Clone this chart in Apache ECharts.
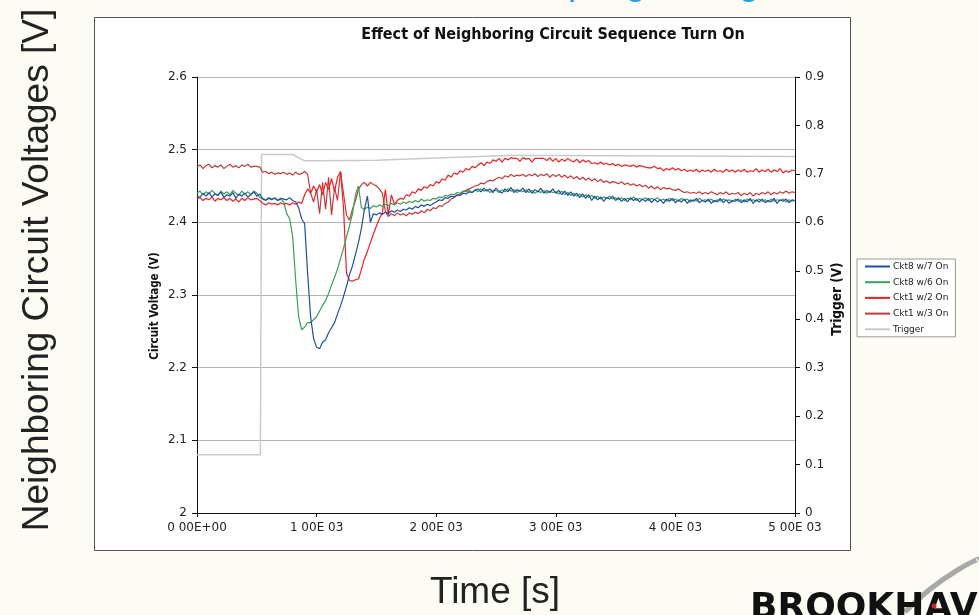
<!DOCTYPE html>
<html><head><meta charset="utf-8">
<script src="https://cdn.jsdelivr.net/npm/echarts@6/dist/echarts.min.js"></script>
<style>html,body{margin:0;padding:0;background:#fcfcf4;}#main{width:979px;height:615px;}</style>
</head><body><div id="main"></div>
<script>
// sample spacing of the voltage records (seconds)
const sampleStepSeconds = 25;
const xTickLabels = ["0 00E+00", "1 00E 03", "2 00E 03", "3 00E 03", "4 00E 03", "5 00E 03"];
const seriesNames = ["Ckt8 w/7 On", "Ckt8 w/6 On", "Ckt1 w/2 On", "Ckt1 w/3 On", "Trigger"];

const ckt8w7 = [
 2.437,2.434,2.440,2.436,2.441,2.435,2.439,2.437,2.442,2.434,
 2.438,2.436,2.441,2.433,2.439,2.436,2.440,2.435,2.438,2.442,
 2.436,2.439,2.432,2.430,2.433,2.431,2.434,2.430,2.433,2.432,
 2.431,2.434,2.430,2.428,2.420,2.405,2.398,2.330,2.270,2.240,
 2.228,2.226,2.235,2.238,2.248,2.255,2.262,2.274,2.285,2.298,
 2.312,2.328,2.340,2.356,2.372,2.392,2.418,2.436,2.400,2.412,
 2.410,2.413,2.411,2.414,2.412,2.416,2.414,2.417,2.415,2.418,
 2.417,2.420,2.418,2.422,2.420,2.424,2.422,2.425,2.423,2.426,
 2.428,2.431,2.430,2.434,2.433,2.436,2.435,2.438,2.437,2.440,
 2.439,2.442,2.441,2.444,2.446,2.442,2.447,2.443,2.446,2.441,
 2.447,2.443,2.440,2.446,2.442,2.448,2.441,2.445,2.443,2.447,
 2.441,2.446,2.440,2.445,2.442,2.447,2.440,2.444,2.441,2.446,
 2.440,2.444,2.438,2.443,2.437,2.442,2.436,2.440,2.434,2.439,
 2.433,2.438,2.430,2.436,2.431,2.435,2.429,2.434,2.432,2.436,
 2.430,2.434,2.429,2.433,2.428,2.434,2.430,2.433,2.428,2.432,
 2.429,2.433,2.427,2.432,2.428,2.431,2.426,2.432,2.429,2.433,
 2.427,2.431,2.428,2.432,2.426,2.431,2.429,2.433,2.427,2.430,
 2.428,2.432,2.426,2.430,2.428,2.433,2.427,2.431,2.426,2.430,
 2.429,2.432,2.427,2.431,2.428,2.433,2.426,2.431,2.428,2.432,
 2.427,2.430,2.428,2.433,2.426,2.431,2.429,2.432,2.427,2.431,
 2.430
];
const ckt8w6 = [
 2.440,2.443,2.438,2.442,2.439,2.444,2.440,2.437,2.443,2.439,
 2.442,2.438,2.444,2.440,2.437,2.443,2.439,2.442,2.438,2.443,
 2.440,2.434,2.433,2.431,2.434,2.432,2.433,2.430,2.432,2.428,
 2.412,2.405,2.380,2.320,2.270,2.252,2.256,2.262,2.262,2.266,
 2.270,2.278,2.286,2.292,2.302,2.314,2.324,2.336,2.350,2.364,
 2.380,2.395,2.412,2.438,2.450,2.420,2.418,2.421,2.419,2.423,
 2.421,2.424,2.422,2.425,2.423,2.426,2.424,2.427,2.425,2.428,
 2.426,2.429,2.427,2.430,2.428,2.432,2.429,2.431,2.430,2.433,
 2.432,2.435,2.434,2.437,2.436,2.439,2.438,2.441,2.440,2.443,
 2.442,2.444,2.441,2.445,2.442,2.446,2.443,2.445,2.441,2.444,
 2.444,2.441,2.445,2.442,2.446,2.443,2.445,2.441,2.444,2.442,
 2.445,2.441,2.444,2.440,2.443,2.441,2.444,2.440,2.443,2.441,
 2.442,2.439,2.443,2.438,2.441,2.437,2.440,2.436,2.439,2.435,
 2.438,2.434,2.437,2.433,2.436,2.432,2.435,2.433,2.436,2.432,
 2.434,2.431,2.434,2.430,2.433,2.431,2.435,2.430,2.433,2.431,
 2.434,2.430,2.433,2.431,2.434,2.430,2.432,2.429,2.433,2.430,
 2.432,2.429,2.433,2.430,2.432,2.428,2.431,2.429,2.433,2.430,
 2.431,2.429,2.432,2.428,2.431,2.429,2.432,2.430,2.431,2.428,
 2.432,2.429,2.431,2.428,2.432,2.430,2.431,2.429,2.432,2.429,
 2.431,2.428,2.432,2.429,2.431,2.430,2.432,2.428,2.431,2.429,
 2.430
];
const ckt1w2 = [
 2.432,2.434,2.430,2.433,2.431,2.435,2.429,2.433,2.431,2.434,
 2.430,2.433,2.429,2.432,2.428,2.433,2.430,2.434,2.431,2.432,
 2.433,2.430,2.426,2.424,2.427,2.425,2.426,2.424,2.427,2.425,
 2.426,2.424,2.427,2.425,2.428,2.426,2.438,2.446,2.440,2.450,
 2.442,2.452,2.438,2.455,2.445,2.460,2.443,2.462,2.470,2.420,
 2.330,2.320,2.319,2.321,2.322,2.335,2.350,2.360,2.372,2.384,
 2.395,2.405,2.413,2.445,2.410,2.438,2.425,2.430,2.433,2.432,
 2.438,2.436,2.442,2.440,2.446,2.444,2.449,2.447,2.452,2.450,
 2.456,2.454,2.460,2.458,2.465,2.462,2.468,2.466,2.471,2.469,
 2.474,2.472,2.477,2.475,2.479,2.482,2.478,2.483,2.481,2.486,
 2.484,2.488,2.483,2.488,2.486,2.489,2.488,2.488,2.484,2.489,
 2.487,2.488,2.483,2.488,2.488,2.488,2.488,2.485,2.489,2.484,
 2.488,2.483,2.487,2.484,2.488,2.485,2.483,2.487,2.482,2.486,
 2.483,2.485,2.481,2.482,2.480,2.483,2.480,2.481,2.479,2.481,
 2.478,2.480,2.477,2.479,2.478,2.477,2.479,2.476,2.478,2.477,
 2.476,2.475,2.475,2.477,2.474,2.475,2.471,2.474,2.472,2.475,
 2.472,2.474,2.471,2.473,2.470,2.472,2.470,2.473,2.469,2.472,
 2.470,2.472,2.469,2.473,2.470,2.471,2.469,2.473,2.470,2.472,
 2.469,2.472,2.470,2.473,2.469,2.471,2.470,2.474,2.469,2.472,
 2.470,2.473,2.469,2.472,2.470,2.474,2.468,2.471,2.469,2.472,
 2.471
];
const ckt1w3 = [
 2.476,2.479,2.474,2.478,2.480,2.475,2.478,2.476,2.479,2.474,
 2.477,2.480,2.476,2.478,2.475,2.479,2.477,2.480,2.476,2.477,
 2.477,2.476,2.469,2.470,2.467,2.469,2.466,2.468,2.467,2.469,
 2.466,2.468,2.465,2.469,2.466,2.467,2.470,2.466,2.440,2.428,
 2.445,2.412,2.455,2.418,2.462,2.410,2.448,2.430,2.470,2.440,
 2.410,2.403,2.418,2.430,2.445,2.452,2.455,2.450,2.455,2.452,
 2.450,2.446,2.440,2.415,2.408,2.412,2.409,2.413,2.410,2.412,
 2.409,2.413,2.411,2.414,2.412,2.416,2.413,2.418,2.416,2.420,
 2.419,2.423,2.422,2.426,2.428,2.432,2.434,2.437,2.439,2.442,
 2.444,2.446,2.448,2.450,2.451,2.454,2.453,2.456,2.458,2.457,
 2.460,2.462,2.460,2.464,2.462,2.466,2.463,2.465,2.464,2.466,
 2.463,2.466,2.464,2.467,2.463,2.466,2.464,2.467,2.462,2.466,
 2.463,2.466,2.462,2.465,2.461,2.464,2.460,2.463,2.459,2.462,
 2.458,2.461,2.457,2.460,2.456,2.459,2.455,2.457,2.454,2.456,
 2.455,2.453,2.456,2.452,2.454,2.451,2.453,2.450,2.452,2.449,
 2.451,2.447,2.450,2.446,2.449,2.445,2.448,2.446,2.447,2.445,
 2.444,2.446,2.443,2.441,2.442,2.440,2.441,2.440,2.442,2.439,
 2.441,2.439,2.442,2.440,2.438,2.441,2.439,2.442,2.438,2.440,
 2.439,2.441,2.437,2.440,2.438,2.441,2.436,2.440,2.438,2.441,
 2.439,2.442,2.438,2.441,2.439,2.442,2.440,2.443,2.440,2.442,
 2.441
];
const triggerTimes  = [0, 530, 540, 800, 900, 1000, 1500, 2000, 2600, 3000, 4000, 5000];
const triggerValues = [0.12, 0.12, 0.74, 0.74, 0.727, 0.727, 0.728, 0.733, 0.738, 0.738, 0.737, 0.736];

const toPairs = arr => arr.map((v, i) => [i * sampleStepSeconds, v]);
const triggerPairs = triggerTimes.map((t, i) => [t, triggerValues[i]]);

const colors = ["#1f4ea6", "#3c9f57", "#ee2024", "#c23a3a", "#c9c9c9"];
const fontV = "DejaVu Sans";
const fontC = "DejaVu Sans Condensed";

const chart = echarts.init(document.getElementById('main'), null, {renderer: 'canvas'});
const lineSeries = (name, data, color, yIdx, z, w) => ({
  name, type: 'line', data, yAxisIndex: yIdx, symbol: 'none', z,
  lineStyle: {color, width: w}, itemStyle: {color}, animation: false
});

chart.setOption({
  backgroundColor: '#fcfcf4',
  animation: false,
  graphic: [
    {type: 'rect', z: -10, silent: true, shape: {x: 94.5, y: 17.5, width: 756, height: 533},
     style: {fill: '#ffffff', stroke: '#555555', lineWidth: 1}},
    {type: 'text', silent: true, x: 553, y: 35,
     style: {text: 'Effect of Neighboring Circuit Sequence Turn On', fontFamily: fontC, fontWeight: 'bold',
             fontSize: 16, fill: '#111', align: 'center', verticalAlign: 'middle'}},
    {type: 'text', silent: true, x: 155, y: 306, rotation: Math.PI / 2,
     style: {text: 'Circuit Voltage (V)', fontFamily: fontC, fontWeight: 'bold',
             fontSize: 11.5, fill: '#111', align: 'center', verticalAlign: 'middle'}},
    {type: 'text', silent: true, x: 837, y: 299, rotation: Math.PI / 2,
     style: {text: 'Trigger (V)', fontFamily: fontC, fontWeight: 'bold',
             fontSize: 13.5, fill: '#111', align: 'center', verticalAlign: 'middle'}},
    {type: 'text', silent: true, x: 38, y: 270, rotation: Math.PI / 2,
     style: {text: 'Neighboring Circuit Voltages [V]', fontFamily: 'Liberation Sans', fontSize: 37,
             fill: '#222', align: 'center', verticalAlign: 'middle'}},
    {type: 'text', silent: true, x: 495, y: 593,
     style: {text: 'Time [s]', fontFamily: 'Liberation Sans', fontSize: 37,
             fill: '#222', align: 'center', verticalAlign: 'middle'}},
    {type: 'text', silent: true, x: 640, y: 2,
     style: {text: 'Coupling Voltage', fontFamily: 'Liberation Sans', fontSize: 37,
             fill: '#1e9fe3', align: 'center', verticalAlign: 'bottom'}},
    {type: 'bezierCurve', silent: true, z: 5,
     shape: {x1: 905, y1: 612, x2: 978, y2: 560, cpx1: 940, cpy1: 575, cpx2: 985, cpy2: 555},
     style: {stroke: '#a8a8a8', lineWidth: 5, fill: null}},
    {type: 'text', silent: true, z: 6, x: 750, y: 591,
     style: {text: 'BROOKHAVEN', fontFamily: 'DejaVu Sans', fontWeight: 'bold', fontSize: 36,
             fill: '#111', align: 'left', verticalAlign: 'top'}},
    {type: 'circle', silent: true, z: 7, shape: {cx: 934, cy: 606, r: 2.5}, style: {fill: '#e02020'}}
  ],
  legend: {
    orient: 'vertical', left: 857, top: 259,
    data: seriesNames,
    icon: 'rect', itemWidth: 25, itemHeight: 2, itemGap: 4.7,
    padding: [2, 7, 2, 8],
    backgroundColor: '#ffffff', borderColor: '#9a9a9a', borderWidth: 1,
    textStyle: {fontFamily: fontV, fontSize: 9, color: '#222', lineHeight: 11, padding: [0, 0, 0, -2]}
  },
  grid: {left: 197, right: 184, top: 77, bottom: 102, containLabel: false},
  xAxis: {
    type: 'value', min: 0, max: 5000, interval: 1000,
    axisLine: {show: true, lineStyle: {color: '#111', width: 1}},
    axisTick: {show: true, inside: false, length: 4, lineStyle: {color: '#111'}},
    axisLabel: {fontFamily: fontV, fontSize: 12, color: '#222', margin: 9,
                formatter: (v) => xTickLabels[Math.round(v / 1000)]},
    splitLine: {show: false}
  },
  yAxis: [
    {
      type: 'value', min: 2, max: 2.6, interval: 0.1, position: 'left',
      axisLine: {show: true, lineStyle: {color: '#111', width: 1}},
      axisTick: {show: true, inside: false, length: 5, lineStyle: {color: '#111'}},
      axisLabel: {fontFamily: fontV, fontSize: 12, color: '#222', margin: 10},
      splitLine: {show: true, lineStyle: {color: '#b4b4b4', width: 1}}
    },
    {
      type: 'value', min: 0, max: 0.9, interval: 0.1, position: 'right',
      axisLine: {show: true, lineStyle: {color: '#111', width: 1}},
      axisTick: {show: true, inside: false, length: 5, lineStyle: {color: '#111'}},
      axisLabel: {fontFamily: fontV, fontSize: 12, color: '#222', margin: 10},
      splitLine: {show: false}
    }
  ],
  series: [
    lineSeries(seriesNames[4], triggerPairs, colors[4], 1, 1, 1.5),
    lineSeries(seriesNames[3], toPairs(ckt1w3), colors[3], 0, 2, 1.2),
    lineSeries(seriesNames[2], toPairs(ckt1w2), colors[2], 0, 3, 1.2),
    lineSeries(seriesNames[1], toPairs(ckt8w6), colors[1], 0, 4, 1.2),
    lineSeries(seriesNames[0], toPairs(ckt8w7), colors[0], 0, 5, 1.2)
  ]
});
</script>
</body></html>
